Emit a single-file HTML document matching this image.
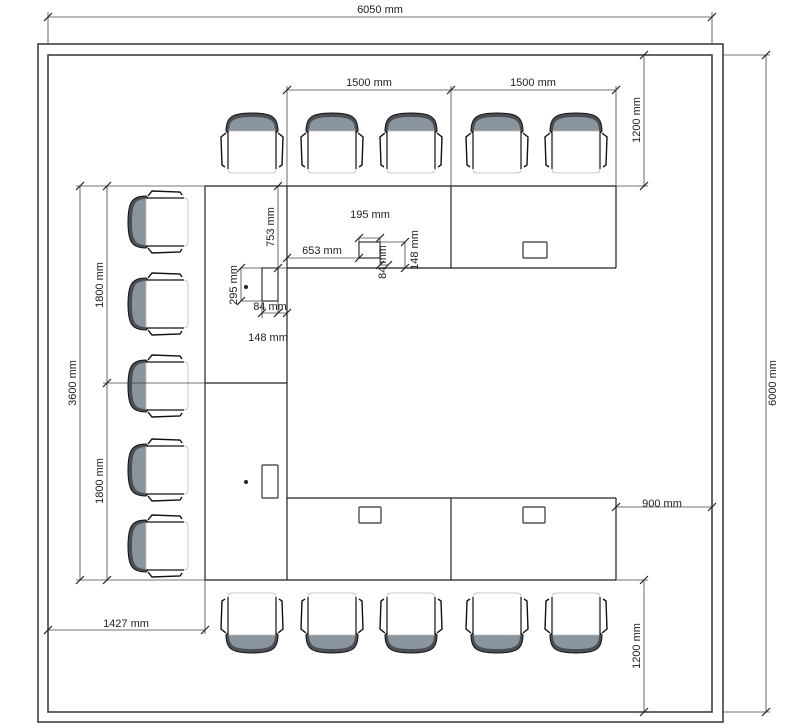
<!DOCTYPE html>
<html><head><meta charset="utf-8"><style>html,body{margin:0;padding:0;background:#fff}svg{display:block}text{font-family:"Liberation Sans",sans-serif;font-size:11px;fill:#222}</style></head>
<body>
<svg width="800" height="728" viewBox="0 0 800 728" xmlns="http://www.w3.org/2000/svg">
<defs>
<g id="chair">
  <path d="M-26,-12 C-26,-26 -20,-30 0,-30 C20,-30 26,-26 26,-12 L20,-6 L-20,-6 Z" fill="#4a4f55" stroke="#111" stroke-width="1"/>
  <path d="M-23,-12 C-23,-23 -18,-26 0,-26 C18,-26 23,-23 23,-12 L19,-8 L-19,-8 Z" fill="#8a959e"/>
  <path d="M-24,-12 L-24,26 Q-24,30 -20,30 L20,30 Q24,30 24,26 L24,-12 Z" fill="#fff" stroke="#bbb" stroke-width="0.8"/>
  <path d="M-26,-10 L-31,-6 L-30,22 L-27,24 M26,-10 L31,-6 L30,22 L27,24" fill="none" stroke="#111" stroke-width="1.4"/>
  <path d="M-24,-12 L-24,26 M24,-12 L24,26" stroke="#111" stroke-width="1.2"/>
</g>
<g id="tick"><line x1="-4" y1="4" x2="4" y2="-4" stroke="#222" stroke-width="1.2"/></g>
</defs>
<g fill="none" stroke="#333" stroke-width="1.5">
<rect x="38" y="44" width="685" height="678"/>
<rect x="48" y="55" width="664" height="657"/>
</g>
<g fill="none" stroke="#222" stroke-width="1.2">
<line x1="205" y1="186" x2="616" y2="186"/>
<line x1="205" y1="186" x2="205" y2="580"/>
<line x1="205" y1="580" x2="616" y2="580"/>
<line x1="287" y1="186" x2="287" y2="580"/>
<line x1="287" y1="268" x2="616" y2="268"/>
<line x1="616" y1="186" x2="616" y2="268"/>
<line x1="451" y1="186" x2="451" y2="268"/>
<line x1="287" y1="498" x2="616" y2="498"/>
<line x1="616" y1="498" x2="616" y2="580"/>
<line x1="451" y1="498" x2="451" y2="580"/>
<line x1="205" y1="383" x2="287" y2="383"/>
</g>
<g fill="#fff" stroke="#333" stroke-width="1.2">
<rect x="523" y="242" width="24" height="16" rx="1"/>
<rect x="359" y="242" width="21" height="16"/>
<rect x="359" y="507" width="22" height="16" rx="1"/>
<rect x="523" y="507" width="22" height="16" rx="1"/>
<rect x="262" y="465" width="16" height="33" rx="1"/>
<rect x="262" y="268" width="16" height="33"/>
</g>
<circle cx="246" cy="482" r="2" fill="#222"/><circle cx="246" cy="287" r="2" fill="#222"/>
<!-- chairs -->
<g>
<use href="#chair" transform="translate(252,143)"/>
<use href="#chair" transform="translate(332,143)"/>
<use href="#chair" transform="translate(411,143)"/>
<use href="#chair" transform="translate(497,143)"/>
<use href="#chair" transform="translate(576,143)"/>
<use href="#chair" transform="translate(252,623) rotate(180)"/>
<use href="#chair" transform="translate(332,623) rotate(180)"/>
<use href="#chair" transform="translate(411,623) rotate(180)"/>
<use href="#chair" transform="translate(497,623) rotate(180)"/>
<use href="#chair" transform="translate(576,623) rotate(180)"/>
<use href="#chair" transform="translate(158,222) rotate(-90)"/>
<use href="#chair" transform="translate(158,304) rotate(-90)"/>
<use href="#chair" transform="translate(158,386) rotate(-90)"/>
<use href="#chair" transform="translate(158,470) rotate(-90)"/>
<use href="#chair" transform="translate(158,546) rotate(-90)"/>
</g>
<!-- dimension lines -->
<g stroke="#444" stroke-width="0.8" fill="none">
<line x1="48" y1="17" x2="712" y2="17"/><line x1="48" y1="12" x2="48" y2="44"/><line x1="712" y1="12" x2="712" y2="44"/>
<line x1="766" y1="55" x2="766" y2="712"/><line x1="722" y1="55" x2="770" y2="55"/><line x1="722" y1="712" x2="770" y2="712"/>
<line x1="287" y1="90" x2="616" y2="90"/><line x1="287" y1="86" x2="287" y2="186"/><line x1="451" y1="86" x2="451" y2="186"/><line x1="616" y1="86" x2="616" y2="186"/>
<line x1="644" y1="55" x2="644" y2="186"/><line x1="616" y1="186" x2="648" y2="186"/>
<line x1="644" y1="580" x2="644" y2="712"/><line x1="616" y1="580" x2="648" y2="580"/>
<line x1="616" y1="507" x2="712" y2="507"/>
<line x1="48" y1="630" x2="205" y2="630"/><line x1="205" y1="580" x2="205" y2="634"/>
<line x1="80" y1="186" x2="80" y2="580"/><line x1="76" y1="186" x2="205" y2="186"/><line x1="76" y1="580" x2="205" y2="580"/>
<line x1="107" y1="186" x2="107" y2="580"/><line x1="103" y1="383" x2="205" y2="383"/>
<line x1="278" y1="186" x2="278" y2="268"/><line x1="278" y1="268" x2="287" y2="268"/>
<line x1="287" y1="258" x2="359" y2="258"/>
<line x1="359" y1="238" x2="359" y2="242"/><line x1="380" y1="238" x2="380" y2="242"/><line x1="359" y1="238" x2="380" y2="238"/>
<line x1="380" y1="242" x2="405" y2="242"/><line x1="405" y1="242" x2="405" y2="268"/>
<line x1="380" y1="258" x2="380" y2="265"/><line x1="380" y1="265" x2="388" y2="265"/>
<line x1="241" y1="268" x2="262" y2="268"/><line x1="241" y1="301" x2="262" y2="301"/><line x1="241" y1="268" x2="241" y2="301"/>
<line x1="262" y1="301" x2="262" y2="318"/><line x1="262" y1="313" x2="287" y2="313"/><line x1="278" y1="301" x2="278" y2="313"/>
</g>
<g>
<use href="#tick" x="48" y="17"/><use href="#tick" x="712" y="17"/>
<use href="#tick" x="766" y="55"/><use href="#tick" x="766" y="712"/>
<use href="#tick" x="287" y="90"/><use href="#tick" x="451" y="90"/><use href="#tick" x="616" y="90"/>
<use href="#tick" x="644" y="55"/><use href="#tick" x="644" y="186"/>
<use href="#tick" x="644" y="580"/><use href="#tick" x="644" y="712"/>
<use href="#tick" x="616" y="507"/><use href="#tick" x="712" y="507"/>
<use href="#tick" x="48" y="630"/><use href="#tick" x="205" y="630"/>
<use href="#tick" x="80" y="186"/><use href="#tick" x="80" y="580"/>
<use href="#tick" x="107" y="186"/><use href="#tick" x="107" y="383"/><use href="#tick" x="107" y="580"/>
<use href="#tick" x="278" y="186"/><use href="#tick" x="278" y="268"/>
<use href="#tick" x="287" y="258"/><use href="#tick" x="359" y="258"/>
<use href="#tick" x="359" y="238"/><use href="#tick" x="380" y="238"/>
<use href="#tick" x="405" y="242"/><use href="#tick" x="405" y="268"/>
<use href="#tick" x="380" y="265"/><use href="#tick" x="388" y="265"/>
<use href="#tick" x="241" y="268"/><use href="#tick" x="241" y="301"/>
<use href="#tick" x="262" y="313"/><use href="#tick" x="278" y="313"/><use href="#tick" x="287" y="313"/>
</g>
<g>
<text x="380" y="13" text-anchor="middle">6050 mm</text>
<text x="369" y="86" text-anchor="middle">1500 mm</text>
<text x="533" y="86" text-anchor="middle">1500 mm</text>
<text x="662" y="507" text-anchor="middle">900 mm</text>
<text x="126" y="627" text-anchor="middle">1427 mm</text>
<text transform="translate(776,383) rotate(-90)" text-anchor="middle">6000 mm</text>
<text transform="translate(640,120) rotate(-90)" text-anchor="middle">1200 mm</text>
<text transform="translate(640,646) rotate(-90)" text-anchor="middle">1200 mm</text>
<text transform="translate(76,383) rotate(-90)" text-anchor="middle">3600 mm</text>
<text transform="translate(103,285) rotate(-90)" text-anchor="middle">1800 mm</text>
<text transform="translate(103,481) rotate(-90)" text-anchor="middle">1800 mm</text>
<text transform="translate(274,227) rotate(-90)" text-anchor="middle">753 mm</text>
<text x="322" y="254" text-anchor="middle">653 mm</text>
<text x="370" y="218" text-anchor="middle">195 mm</text>
<text transform="translate(418,250) rotate(-90)" text-anchor="middle">148 mm</text>
<text transform="translate(386,262) rotate(-90)" text-anchor="middle">84 mm</text>
<text transform="translate(237,285) rotate(-90)" text-anchor="middle">295 mm</text>
<text x="270" y="310" text-anchor="middle">84 mm</text>
<text x="268" y="341" text-anchor="middle">148 mm</text>
</g>
</svg>
</body></html>
